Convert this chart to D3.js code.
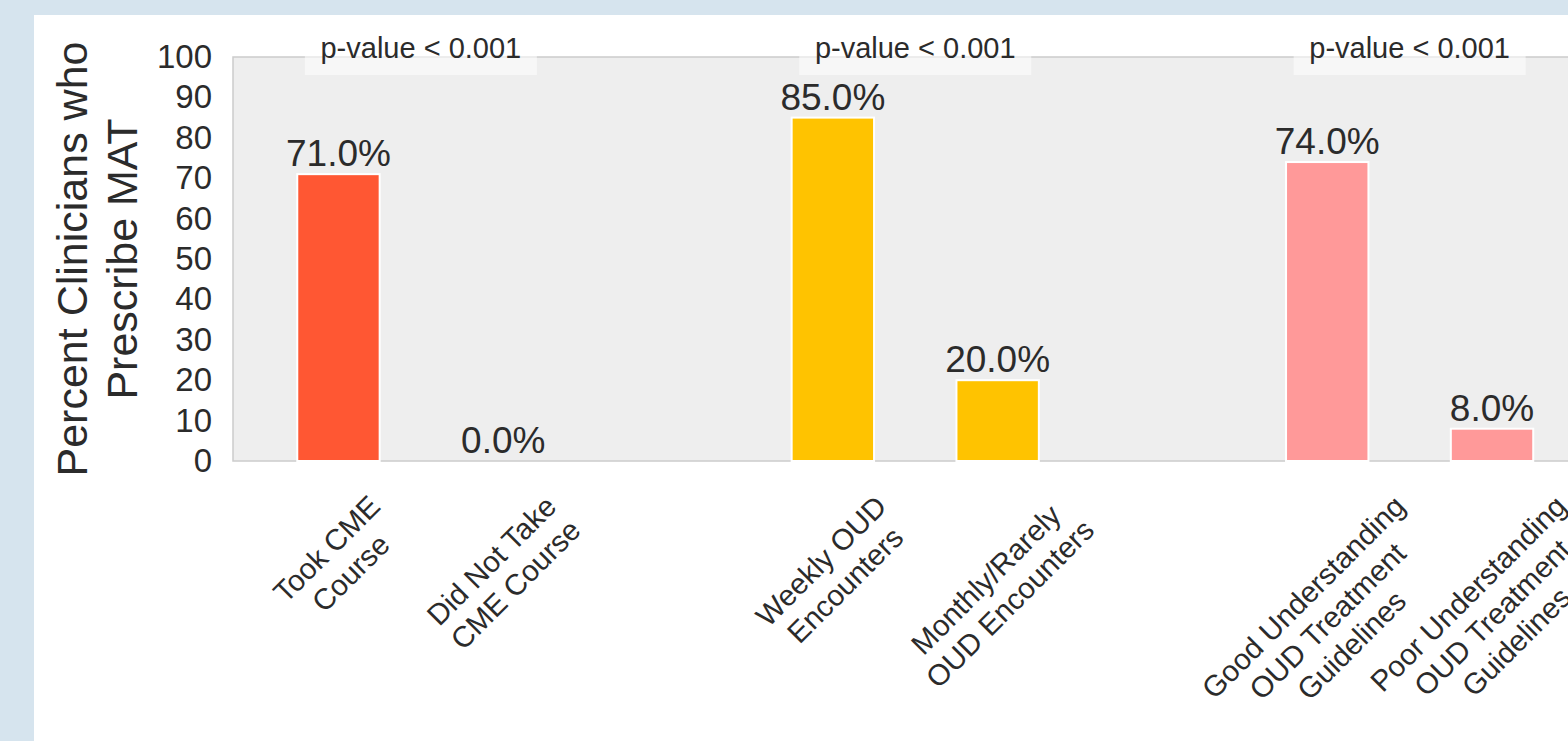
<!DOCTYPE html>
<html>
<head>
<meta charset="utf-8">
<script src="https://cdn.jsdelivr.net/npm/d3@7"></script>
<style>
  html, body { margin: 0; padding: 0; background: #d6e4ee; }
  svg { display: block; font-family: "Liberation Sans", Arial, sans-serif; }
</style>
</head>
<body>
<svg id="chart" width="1568" height="741"></svg>
<script>
// data
const groupNames = ['CME course', 'OUD encounters', 'Treatment guidelines']
const pLabels = ['p-value < 0.001', 'p-value < 0.001', 'p-value < 0.001']
const groupColors = ['#ff5733', '#ffc300', '#ff9999']

const categories = [
  'Took CME\nCourse',
  'Did Not Take\nCME Course',
  'Weekly OUD\nEncounters',
  'Monthly/Rarely\nOUD Encounters',
  'Good Understanding\nOUD Treatment\nGuidelines',
  'Poor Understanding\nOUD Treatment\nGuidelines',
]
const categoryGroup = [0, 0, 1, 1, 2, 2]
const values = [71, 0, 85, 20, 74, 8]
const yTicks = [0, 10, 20, 30, 40, 50, 60, 70, 80, 90, 100]

// layout
const W = 1568, H = 741
const plotLeft = 233, plotTop = 57, plotBottom = 461
const barWidth = 0.5
const textColor = '#2b2b2b'

let svg = d3.select('#chart')

// white figure panel
svg.append('rect')
  .attr('x', 34).attr('y', 15)
  .attr('width', W - 34).attr('height', H - 15)
  .attr('fill', '#ffffff')

// slot index: two bars per group, one empty slot between groups
let withinIdx = categories.map((c, i) => categoryGroup.slice(0, i).filter(g => g === categoryGroup[i]).length)
let slot = categories.map((c, i) => categoryGroup[i] * 3 + withinIdx[i])

let x = d3.scaleLinear().domain([-0.64, 7.64]).range([plotLeft, 1597.5])
let y = d3.scaleLinear().domain([0, 100]).range([plotBottom, plotTop])
let plotRight = x(7.64)

// axes background + spines
svg.append('rect')
  .attr('x', plotLeft).attr('y', plotTop)
  .attr('width', plotRight - plotLeft).attr('height', plotBottom - plotTop)
  .attr('fill', '#eeeeee')
  .attr('stroke', '#cccccc')
  .attr('stroke-width', 1.5)

// bars
svg.append('g').selectAll('rect')
  .data(values)
  .join('rect')
  .attr('x', (d, i) => x(slot[i] - barWidth / 2))
  .attr('width', (d, i) => x(slot[i] + barWidth / 2) - x(slot[i] - barWidth / 2))
  .attr('y', d => y(d))
  .attr('height', d => y(0) - y(d))
  .attr('fill', (d, i) => groupColors[categoryGroup[i]])
  .attr('stroke', '#ffffff')
  .attr('stroke-width', 2)

// value labels
svg.append('g').selectAll('text')
  .data(values)
  .join('text')
  .attr('x', (d, i) => x(slot[i]))
  .attr('y', d => y(d) - 8)
  .attr('text-anchor', 'middle')
  .attr('font-size', 37)
  .attr('fill', textColor)
  .text(d => d.toFixed(1) + '%')

// y axis
let yAxis = svg.append('g')
  .attr('transform', `translate(${plotLeft},0)`)
  .call(d3.axisLeft(y).tickValues(yTicks).tickSize(0).tickPadding(21))
yAxis.select('.domain').remove()
yAxis.selectAll('text')
  .attr('font-size', 33)
  .attr('font-family', '"Liberation Sans", Arial, sans-serif')
  .attr('fill', textColor)

// y label
let yLab = svg.append('text')
  .attr('transform', `translate(87,${(plotTop + plotBottom) / 2}) rotate(-90)`)
  .attr('text-anchor', 'middle')
  .attr('font-size', 43)
  .attr('fill', textColor)
yLab.append('tspan').attr('x', 0).attr('y', 0).text('Percent Clinicians who')
yLab.append('tspan').attr('x', 0).attr('y', 50).text('Prescribe MAT')

// x tick labels, rotated 45deg, bbox centred on the tick
let labelTop = 489
categories.forEach((c, i) => {
  let g = svg.append('g')
  let t = g.append('text')
    .attr('transform', 'rotate(-45)')
    .attr('text-anchor', 'middle')
    .attr('font-size', 29.5)
    .attr('fill', textColor)
  c.split('\n').forEach((line, k) => {
    t.append('tspan').attr('x', 0).attr('y', k * 34).text(line)
  })
  let b = t.node().getBoundingClientRect()
  let cx = b.left + b.width / 2
  g.attr('transform', `translate(${x(slot[i]) - cx},${labelTop - b.top})`)
})

// p-value boxes above each group
groupNames.forEach((gName, gi) => {
  let idx = slot.filter((s, i) => categoryGroup[i] === gi)
  let cx = x(d3.mean(idx))
  let g = svg.append('g')
  g.append('rect')
    .attr('x', cx - 116).attr('y', 24)
    .attr('width', 232).attr('height', 51)
    .attr('fill', '#ffffff')
    .attr('fill-opacity', 0.55)
  g.append('text')
    .attr('x', cx).attr('y', 58)
    .attr('text-anchor', 'middle')
    .attr('font-size', 29)
    .attr('fill', textColor)
    .text(pLabels[gi])
})
</script>
</body>
</html>
